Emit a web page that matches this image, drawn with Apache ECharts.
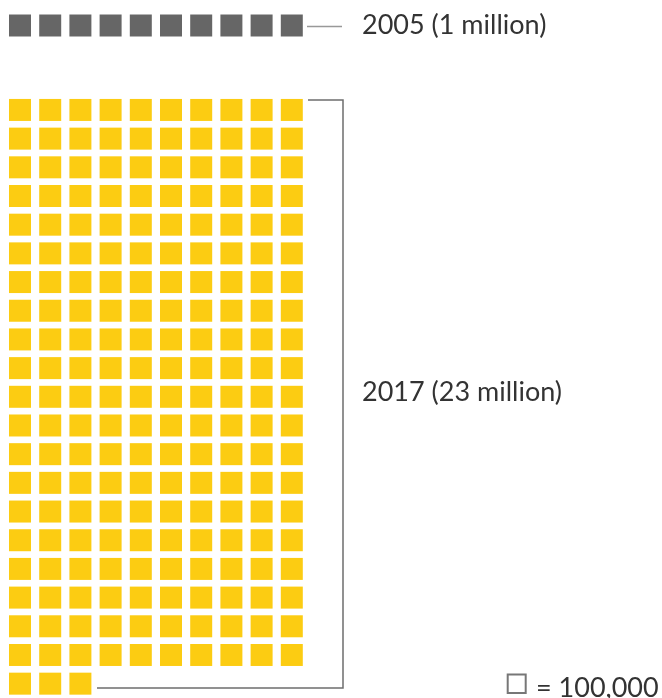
<!DOCTYPE html>
<html>
<head>
<meta charset="utf-8">
<script src="https://cdn.jsdelivr.net/npm/echarts@6/dist/echarts.min.js"></script>
<style>
html,body{margin:0;padding:0;background:#fff;}
#chart{width:662px;height:698px;}
</style>
</head>
<body>
<div id="chart"></div>
<script>
// ---- data ----
const years = ['2005', '2017'];
const yearLabels = ['2005 (1 million)', '2017 (23 million)'];
const squareCounts = [10, 203];           // squares drawn, each = 100,000
const squaresPerRow = 10;
const unitLabel = '= 100,000';
const squareColors = ['#666666', '#FCCC12'];

function cells(count) {
  const out = [];
  for (let i = 0; i < count; i++) out.push([i % squaresPerRow, Math.floor(i / squaresPerRow)]);
  return out;
}
const rowsNeeded = squareCounts.map(c => Math.ceil(c / squaresPerRow));

const colStep = 30.2, rowStep = 28.8, gridLeft = 20 - colStep / 2;
const FONT = 'Lato, "Open Sans", sans-serif';
const TXT = '400 27px ' + FONT;

const chart = echarts.init(document.getElementById('chart'), null, {renderer: 'canvas'});
const grids = [
  {left: gridLeft, width: colStep * squaresPerRow, top: 25.5 - rowStep / 2, height: rowStep * rowsNeeded[0]},
  {left: gridLeft, width: colStep * squaresPerRow, top: 110 - rowStep / 2, height: rowStep * rowsNeeded[1]}
];
const xAxes = grids.map((g, i) => ({type: 'value', gridIndex: i, min: -0.5, max: squaresPerRow - 0.5, show: false}));
const yAxes = grids.map((g, i) => ({type: 'value', gridIndex: i, min: -0.5, max: rowsNeeded[i] - 0.5, inverse: true, show: false}));
const series = years.map((y, i) => ({
  type: 'scatter', name: y, xAxisIndex: i, yAxisIndex: i,
  symbol: 'rect', symbolSize: 22, silent: true,
  itemStyle: {color: squareColors[i], opacity: 1},
  data: cells(squareCounts[i])
}));

chart.setOption({
  animation: false,
  grid: grids, xAxis: xAxes, yAxis: yAxes, series: series,
  graphic: [
    {type: 'line', shape: {x1: 307, y1: 26.5, x2: 342, y2: 26.5}, style: {stroke: '#999', lineWidth: 1.5}},
    {type: 'polyline', shape: {points: [[308, 100], [343, 100], [343, 688], [97, 688]]}, style: {stroke: '#6e6e6e', lineWidth: 1.5, fill: null}},
    {type: 'text', x: 362, y: 25.5, style: {text: yearLabels[0], font: TXT, fill: '#333', textVerticalAlign: 'middle'}},
    {type: 'text', x: 362, y: 392, style: {text: yearLabels[1], font: TXT, fill: '#333', textVerticalAlign: 'middle'}},
    {type: 'rect', shape: {x: 507.7, y: 674.5, width: 18, height: 18.5}, style: {stroke: '#777', lineWidth: 2, fill: null}},
    {type: 'text', x: 536, y: 688, style: {text: unitLabel, font: TXT, fill: '#333', textVerticalAlign: 'middle'}}
  ]
});
</script>
</body>
</html>
